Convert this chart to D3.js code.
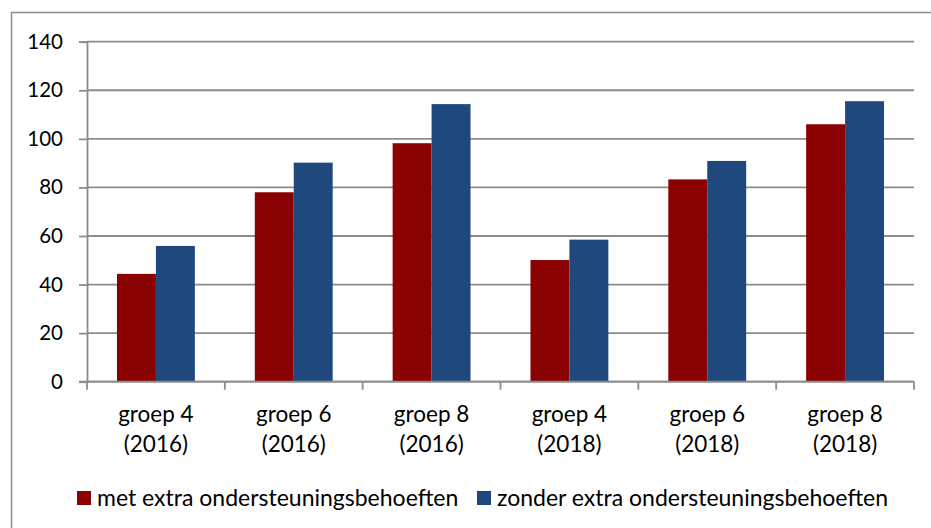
<!DOCTYPE html>
<html>
<head>
<meta charset="utf-8">
<script src="https://cdn.jsdelivr.net/npm/d3@7"></script>
<style>
  html, body { margin: 0; padding: 0; background: #fff; }
  svg { display: block; font-family: Lato, "Open Sans", sans-serif; }
</style>
</head>
<body>
<svg id="chart" width="931" height="528"></svg>
<script>
// Categories (two label lines each) and series values
const categories = ["groep 4|(2016)", "groep 6|(2016)", "groep 8|(2016)",
                    "groep 4|(2018)", "groep 6|(2018)", "groep 8|(2018)"];
const seriesNames = ["met extra ondersteuningsbehoeften", "zonder extra ondersteuningsbehoeften"];
const metExtra = [44.4, 78.0, 98.2, 50.1, 83.3, 106.0];
const zonderExtra = [55.9, 90.2, 114.3, 58.5, 90.9, 115.5];
const yTicks = [0, 20, 40, 60, 80, 100, 120, 140];
const colors = ["#8b0000", "#1f497d"];

const svg = d3.select("#chart");
const W = 931, H = 528;
const plotL = 87, plotR = 914, plotT = 41.7, plotB = 381.7;
const gridColor = "#8c8c8c";

// Outer chart frame
svg.append("rect")
  .attr("x", 11.5).attr("y", 12.5)
  .attr("width", W + 20).attr("height", H + 20)
  .attr("fill", "none").attr("stroke", gridColor).attr("stroke-width", 1.5);

const x = d3.scaleBand().domain(categories).range([plotL, plotR]).paddingInner(0).paddingOuter(0);
const inner = d3.scaleBand().domain([0, 1]).range([0, x.bandwidth()]).paddingInner(0).paddingOuter(0.77);
const y = d3.scaleLinear().domain([0, 140]).range([plotB, plotT]);

// Horizontal gridlines
svg.append("g").selectAll("line").data(yTicks).join("line")
  .attr("x1", plotL).attr("x2", plotR)
  .attr("y1", d => y(d)).attr("y2", d => y(d))
  .attr("stroke", gridColor).attr("stroke-width", 1.8);

// Bars
const rows = categories.map((c, i) => ({ c, vals: [metExtra[i], zonderExtra[i]] }));
const groups = svg.append("g").selectAll("g").data(rows).join("g")
  .attr("transform", d => `translate(${x(d.c)},0)`);
groups.selectAll("rect").data(d => d.vals.map((v, k) => ({ v, k }))).join("rect")
  .attr("x", d => inner(d.k))
  .attr("width", inner.bandwidth())
  .attr("y", d => y(d.v))
  .attr("height", d => y(0) - y(d.v))
  .attr("fill", d => colors[d.k]);

// Y axis
const yAxis = svg.append("g").attr("transform", `translate(${plotL},0)`)
  .call(d3.axisLeft(y).tickValues(yTicks).tickSize(8).tickPadding(16));
yAxis.select(".domain").attr("stroke", gridColor).attr("stroke-width", 1.8);
yAxis.selectAll(".tick line").attr("stroke", gridColor).attr("stroke-width", 1.8);
yAxis.selectAll(".tick text").attr("font-size", 20.5).attr("fill", "#000")
  .attr("font-family", "Lato, sans-serif");

// X axis with category boundary ticks
const xAxisG = svg.append("g").attr("transform", `translate(0,${plotB})`);
xAxisG.append("line").attr("x1", plotL - 8).attr("x2", plotR)
  .attr("stroke", gridColor).attr("stroke-width", 1.8);
const bounds = categories.map(c => x(c)).concat([plotR]);
xAxisG.selectAll("line.tk").data(bounds).join("line").attr("class", "tk")
  .attr("x1", d => d).attr("x2", d => d).attr("y1", 0).attr("y2", 8)
  .attr("stroke", gridColor).attr("stroke-width", 1.8);
const lbl = xAxisG.selectAll("text").data(categories).join("text")
  .attr("text-anchor", "middle").attr("font-size", 22.5).attr("fill", "#000")
  .attr("transform", d => `translate(${x(d) + x.bandwidth() / 2},0)`);
lbl.selectAll("tspan").data(d => d.split("|")).join("tspan")
  .attr("x", 0).attr("y", (d, i) => 40 + i * 30).text(d => d);

// Legend
const legendX = [77, 477];
const lg = svg.append("g").selectAll("g").data(seriesNames).join("g")
  .attr("transform", (d, i) => `translate(${legendX[i]},491)`);
lg.append("rect").attr("width", 14).attr("height", 14).attr("fill", (d, i) => colors[i]);
lg.append("text").attr("x", 20).attr("y", 15).attr("font-size", 23).attr("fill", "#000")
  .text(d => d);
</script>
</body>
</html>
